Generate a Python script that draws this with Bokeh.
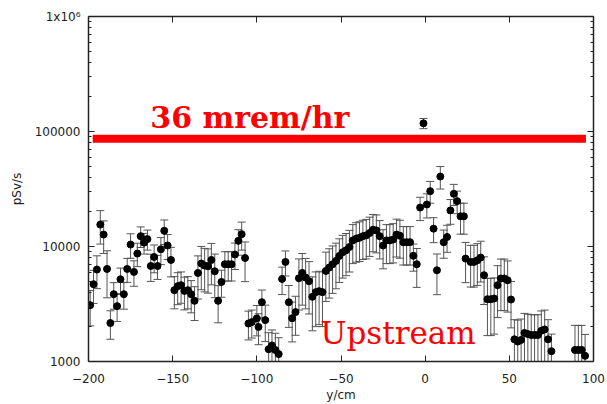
from bokeh.plotting import figure
from bokeh.models import FixedTicker, LinearAxis, LogAxis, Label, Range1d
from bokeh.embed import file_html
from bokeh.resources import INLINE

# ---- data ----
y_cm = [-199, -197, -195, -193, -191, -189, -187, -185, -183, -181,
        -179, -177, -175, -173, -171, -169, -167, -165, -163, -161,
        -159, -157, -155, -153, -151, -149, -147, -145, -143, -141,
        -139, -137, -135, -133, -131, -129, -127, -125, -123, -121,
        -119, -117, -115, -113, -111, -109, -107, -105, -103, -100,
        -99, -97, -95, -93, -91, -89, -87, -85, -83, -81,
        -79, -77, -75, -73, -71, -69, -67, -65, -63, -61,
        -59, -57, -55, -53, -51, -49, -47, -45, -43, -41,
        -39, -37, -35, -33, -31, -29, -27, -25, -23, -21,
        -19, -17, -15, -13, -11, -9, -7, -5, -3, -1,
        1, 3, 5, 7, 9, 11, 13, 15, 17, 19,
        21, 23, 24, 27, 29, 31, 33, 35, 37, 39,
        41, 43, 45, 47, 49, 51, 53, 55, 57, 59,
        61, 63, 65, 67, 69, 71, 73, 75, 89, 91,
        93, 95]
dose = [3090, 4700, 6300, 15500, 12700, 6380, 2160, 3850, 3030, 5190,
        3850, 6380, 10400, 6010, 8680, 12300, 10800, 11600, 6770, 8110,
        6770, 9460, 13700, 10200, 7640, 4170, 4520, 4610, 4110, 4170,
        3850, 3370, 5890, 7110, 6830, 6730, 7640, 6090, 3370, 4920,
        7010, 7010, 7010, 8510, 11200, 12800, 7950, 2140, 2200, 2370,
        2000, 3280, 2290, 1280, 1380, 1260, 1160, 5220, 7340, 3280,
        2380, 2690, 5300, 5890, 5370, 4990, 3650, 4010, 4090, 4010,
        6130, 6560, 7010, 7490, 8270, 8910, 9270, 9900, 11300, 11700,
        11900, 12300, 12500, 13100, 14000, 13800, 12300, 10200, 11300, 11300,
        11500, 12700, 12400, 10900, 10900, 10900, 8300, 7010, 21800, 117800,
        23200, 30300, 14300, 6210, 40600, 10900, 12100, 20600, 28700, 24800,
        18300, 18300, 7850, 7340, 7340, 7590, 8010, 5630, 3480, 3480,
        3530, 4610, 5270, 5270, 5090, 3460, 1560, 1490, 1540, 1770,
        1730, 1700, 1700, 1700, 1850, 1900, 1560, 1230, 1260, 1260,
        1260, 1120]
dose_err = [1050, 1500, 2000, 5000, 4000, 2800, 600, 1000, 800, 1300,
            1000, 1500, 2500, 1500, 2000, 2500, 2200, 2300, 1800, 2200,
            1600, 2500, 3300, 2500, 2200, 1300, 1400, 1400, 1300, 1300,
            1200, 1100, 2400, 2900, 2800, 2800, 3000, 2500, 1200, 1300,
            2000, 2000, 2000, 2200, 2800, 3500, 3000, 600, 600, 700,
            600, 900, 800, 500, 500, 500, 450, 1400, 1800, 1300,
            900, 1000, 2500, 2800, 2500, 2400, 1800, 2000, 2000, 2000,
            2800, 3000, 3100, 3200, 3400, 3600, 3700, 3900, 4200, 4400,
            4500, 4600, 4700, 4900, 5000, 5000, 4500, 3800, 4200, 4200,
            4300, 4600, 4500, 4000, 4000, 4000, 2200, 2600, 5000, 12000,
            5500, 6500, 3500, 2400, 9000, 3000, 3200, 5000, 6000, 5500,
            5500, 5500, 3000, 2900, 2900, 3000, 3100, 2500, 1800, 1800,
            1800, 2200, 2500, 2500, 2400, 1500, 750, 800, 800, 850,
            850, 850, 850, 850, 900, 900, 750, 500, 800, 800,
            800, 600]

limit_y_cm = [-197.5, 95.5]
limit_dose = [86700, 86700]
limit_text = "36 mrem/hr"
side_text = "Upstream"

x_ticks = [-200, -150, -100, -50, 0, 50, 100]
y_ticks = [1000, 10000, 100000, 1000000]
y_tick_labels = ["1000", "10000", "100000", "1x10\u2076"]
y_minor = [m * 10 ** k for k in (3, 4, 5) for m in range(2, 10)]

lower = [d - e for d, e in zip(dose, dose_err)]
upper = [d + e for d, e in zip(dose, dose_err)]

FONT = "DejaVu Sans"
AXC = "#222222"

p = figure(width=607, height=404, y_axis_type="log",
           x_range=Range1d(-200, 100), y_range=Range1d(1000, 1e6),
           output_backend="svg", toolbar_location=None,
           min_border_left=88, min_border_right=14, min_border_top=16,
           min_border_bottom=42)
p.outline_line_color = None
p.xgrid.grid_line_color = None
p.ygrid.grid_line_color = None
p.background_fill_color = "white"
p.border_fill_color = "white"

def style(ax):
    ax.axis_line_color = AXC
    ax.axis_line_width = 1.5
    ax.major_tick_line_color = AXC
    ax.minor_tick_line_color = AXC
    ax.major_tick_in = 6
    ax.major_tick_out = 0
    ax.minor_tick_in = 3
    ax.minor_tick_out = 0
    ax.major_label_text_font = FONT
    ax.major_label_text_font_size = "12px"
    ax.major_label_text_color = AXC
    ax.axis_label_text_font = FONT
    ax.axis_label_text_font_size = "12px"
    ax.axis_label_text_font_style = "normal"
    ax.axis_label_text_color = AXC

xa = p.xaxis[0]
ya = p.yaxis[0]
xa.ticker = FixedTicker(ticks=x_ticks)
ya.ticker = FixedTicker(ticks=y_ticks, minor_ticks=y_minor)
ya.major_label_overrides = {t: l for t, l in zip(y_ticks, y_tick_labels)}
style(xa)
style(ya)
xa.axis_label = "y/cm"
ya.axis_label = "pSv/s"
xa.major_label_standoff = 12
xa.axis_label_standoff = 2
ya.major_label_standoff = 8
ya.axis_label_standoff = 8

# mirror axes (ticks only, labels hidden)
top = LinearAxis(ticker=FixedTicker(ticks=x_ticks))
style(top)
top.major_label_text_alpha = 0
top.major_label_standoff = 0
p.add_layout(top, "above")
right = LogAxis(ticker=FixedTicker(ticks=y_ticks, minor_ticks=y_minor))
style(right)
right.major_label_text_alpha = 0
right.major_label_standoff = 0
p.add_layout(right, "right")

# error bars
p.segment(x0=y_cm, y0=lower, x1=y_cm, y1=upper, line_color="#555555", line_width=1)
p.scatter(x=y_cm, y=lower, marker="dash", size=8, line_color="#555555", line_width=1)
p.scatter(x=y_cm, y=upper, marker="dash", size=8, line_color="#555555", line_width=1)
# points
p.scatter(x=y_cm, y=dose, marker="circle", size=7, fill_color="black", line_color="black")

# limit line
p.line(x=limit_y_cm, y=limit_dose, line_color="#ff0000", line_width=8, line_cap="butt")

p.add_layout(Label(x=-163.3, y=132000, text=limit_text, text_color="#ff0000",
                   text_font="DejaVu Serif", text_font_style="bold",
                   text_font_size="30px", text_baseline="alphabetic"))
p.add_layout(Label(x=-62.3, y=1766, text=side_text, text_color="#ff0000",
                   text_font="DejaVu Serif", text_font_size="31px",
                   text_baseline="alphabetic"))

open("out.html", "w").write(file_html(p, INLINE))
